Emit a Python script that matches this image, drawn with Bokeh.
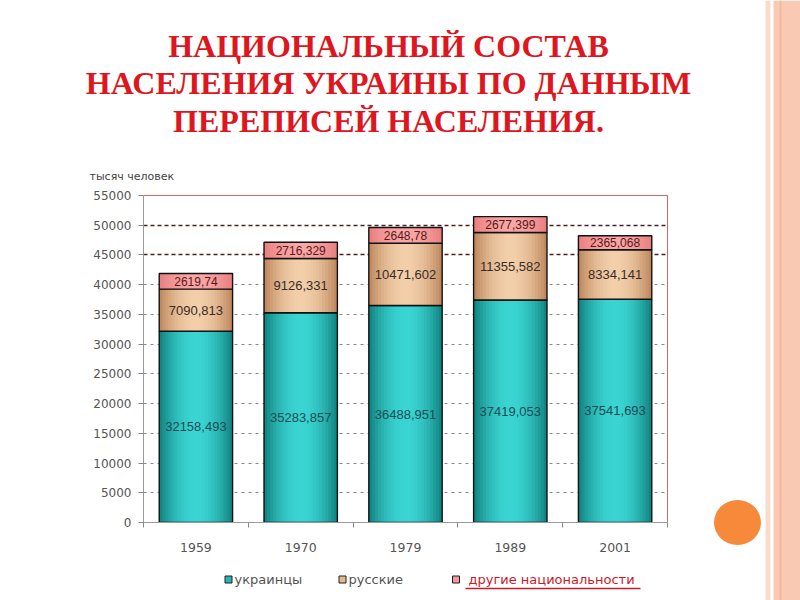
from bokeh.plotting import figure
from bokeh.layouts import column, row
from bokeh.models import FixedTicker, ColumnDataSource, Grid, Range1d
from bokeh.core.properties import value
from bokeh.embed import file_html
from bokeh.resources import INLINE

# ---- data ----
years = ["1959", "1970", "1979", "1989", "2001"]
ukrainians = [32158.493, 35283.857, 36488.951, 37419.053, 37541.693]
russians = [7090.813, 9126.331, 10471.602, 11355.582, 8334.141]
others = [2619.74, 2716.329, 2648.78, 2677.399, 2365.068]
y_ticks = [0, 5000, 10000, 15000, 20000, 25000, 30000, 35000, 40000, 45000, 50000, 55000]
title_lines = ["НАЦИОНАЛЬНЫЙ СОСТАВ", "НАСЕЛЕНИЯ УКРАИНЫ ПО ДАННЫМ", "ПЕРЕПИСЕЙ НАСЕЛЕНИЯ."]
y_label = "тысяч человек"
series_names = ["украинцы", "русские", "другие национальности"]


def fmt(v):
    return f"{v:.3f}".rstrip("0").rstrip(".").replace(".", ",")


def hex2rgb(h):
    h = h.lstrip("#")
    return tuple(int(h[i:i + 2], 16) for i in (0, 2, 4))


def blend(c1, c2, t):
    a, b = hex2rgb(c1), hex2rgb(c2)
    return "#%02x%02x%02x" % tuple(int(round(a[i] + (b[i] - a[i]) * t)) for i in range(3))


def blank_fig(w, h):
    f = figure(width=w, height=h, x_range=Range1d(0, w), y_range=Range1d(h, 0),
               output_backend="svg", toolbar_location=None, title=None,
               x_axis_location=None, y_axis_location=None, min_border=0)
    f.xgrid.visible = False
    f.ygrid.visible = False
    f.outline_line_color = None
    f.background_fill_color = "white"
    f.border_fill_color = "white"
    return f


LEFT_W = 700
DECO_W = 800 - LEFT_W
TOP_H = 187
LEG_H = 40
CHART_H = 600 - TOP_H - LEG_H

# ---- title panel ----
tf = blank_fig(LEFT_W, TOP_H)
tf.text(x=[388] * 3, y=[45, 82.5, 120], text=title_lines, text_align="center",
        text_baseline="middle", text_font=value("Liberation Serif"),
        text_font_style="bold", text_font_size="32px", text_color="#dd1620")
tf.text(x=[89], y=[176], text=[y_label], text_align="left", text_baseline="middle",
        text_font=value("DejaVu Sans"), text_font_size="11px", text_color="#444444")

# ---- chart ----
xs = [i + 0.5 for i in range(len(years))]
r_bottom = ukrainians
r_top = [u + r for u, r in zip(ukrainians, russians)]
o_top = [t + o for t, o in zip(r_top, others)]

src = ColumnDataSource(dict(
    x=xs,
    zero=[0] * len(xs),
    u_top=ukrainians,
    r_bottom=r_bottom,
    r_top=r_top,
    o_top=o_top,
    u_mid=[u / 2 for u in ukrainians],
    r_mid=[b + r / 2 for b, r in zip(r_bottom, russians)],
    o_mid=[t + o / 2 for t, o in zip(r_top, others)],
    u_lbl=[fmt(v) for v in ukrainians],
    r_lbl=[fmt(v) for v in russians],
    o_lbl=[fmt(v) for v in others],
))

p = figure(width=LEFT_W, height=CHART_H, x_range=Range1d(0, len(years)), y_range=Range1d(0, 55000),
           output_backend="svg", toolbar_location=None, title=None,
           min_border_left=143, min_border_right=LEFT_W - 667,
           min_border_top=195 - TOP_H, min_border_bottom=(TOP_H + CHART_H) - 522)
p.background_fill_color = "white"
p.border_fill_color = "white"
p.outline_line_color = "#cc6a6a"
p.outline_line_width = 1

BAR_W = 0.7
N = 12


def gradient_bar(bottom, top, edge, center):
    for k in range(N):
        d = 1 - k / N
        t = 1 - d * d
        p.vbar(x="x", width=BAR_W * d, bottom=bottom, top=top, source=src,
               fill_color=blend(edge, center, t), line_color=None)
    p.vbar(x="x", width=BAR_W, bottom=bottom, top=top, source=src,
           fill_color=None, line_color="#111111", line_width=1.4)


gradient_bar("zero", "u_top", "#138684", "#3ad6d4")
gradient_bar("r_bottom", "r_top", "#c08a60", "#f2cfaa")
gradient_bar("r_top", "o_top", "#ea8080", "#f8a6a6")

lbl_font = value("Liberation Sans")
p.text(x="x", y="u_mid", text="u_lbl", source=src, text_align="center", text_baseline="middle",
       text_font=lbl_font, text_font_size="13px", text_color="#1e4c55")
p.text(x="x", y="r_mid", text="r_lbl", source=src, text_align="center", text_baseline="middle",
       text_font=lbl_font, text_font_size="13px", text_color="#3a2c25")
p.text(x="x", y="o_mid", text="o_lbl", source=src, text_align="center", text_baseline="middle",
       text_font=lbl_font, text_font_size="12px", text_color="#5a1818")

p.xgrid.visible = False
p.ygrid.ticker = FixedTicker(ticks=[t for t in y_ticks if 0 < t <= 40000])
p.ygrid.grid_line_color = "#8a8a8a"
p.ygrid.grid_line_dash = "3 4"
p.ygrid.grid_line_width = 1
g2 = Grid(dimension=1, ticker=FixedTicker(ticks=[45000, 50000]),
          grid_line_color="#4a2020", grid_line_dash="4 3", grid_line_width=1.6)
p.add_layout(g2)

p.xaxis.ticker = FixedTicker(ticks=xs, minor_ticks=list(range(0, len(years) + 1)))
p.xaxis.major_label_overrides = {x: y for x, y in zip(xs, years)}
p.xaxis.major_tick_line_color = None
p.xaxis.minor_tick_line_color = "#888888"
p.xaxis.minor_tick_in = 0
p.xaxis.minor_tick_out = 5
p.xaxis.axis_line_color = "#999999"
p.xaxis.major_label_standoff = 14
p.xaxis.major_label_text_font = "DejaVu Sans"
p.xaxis.major_label_text_font_size = "12.5px"
p.xaxis.major_label_text_color = "#555555"

p.yaxis.ticker = FixedTicker(ticks=y_ticks)
p.yaxis.axis_line_color = "#999999"
p.yaxis.major_tick_line_color = "#888888"
p.yaxis.major_tick_in = 0
p.yaxis.major_tick_out = 5
p.yaxis.minor_tick_line_color = None
p.yaxis.major_label_standoff = 7
p.yaxis.major_label_text_font = "DejaVu Sans"
p.yaxis.major_label_text_font_size = "12px"
p.yaxis.major_label_text_color = "#555555"

# ---- legend panel ----
lf = blank_fig(LEFT_W, LEG_H)
leg_colors = ["#28b4b2", "#e6b890", "#f29a9a"]
leg_x = [228, 342, 455.5]
leg_tx = [234, 348, 468]
leg_text_color = ["#555555", "#555555", "#cc1a2a"]
ly = 579 - (TOP_H + CHART_H)
lf.rect(x=leg_x, y=[ly] * 3, width=7, height=7, fill_color=leg_colors,
        line_color="#222222", line_width=1)
lf.text(x=leg_tx, y=[ly] * 3, text=series_names, text_align="left",
        text_baseline="middle", text_font=value("DejaVu Sans"), text_font_size="13px",
        text_color=leg_text_color)
lf.segment(x0=[465], y0=[ly + 9], x1=[640], y1=[ly + 9], line_color="#cc1a2a", line_width=1.5)

# ---- decorative slide border ----
df = blank_fig(DECO_W, 600)
ox = LEFT_W
df.quad(left=[765 - ox, 773 - ox, 779 - ox], right=[770 - ox, 800 - ox, 781 - ox],
        top=[0] * 3, bottom=[600] * 3, fill_color=["#f9dbcd", "#fac9b3", "#f5b89e"],
        line_color=None)
df.ellipse(x=[737 - ox], y=[522], width=47, height=45, fill_color="#f7893a", line_color=None)

layout = row(column(row(tf), p, row(lf), spacing=0), df, spacing=0)
open("out.html", "w").write(file_html(layout, INLINE))
